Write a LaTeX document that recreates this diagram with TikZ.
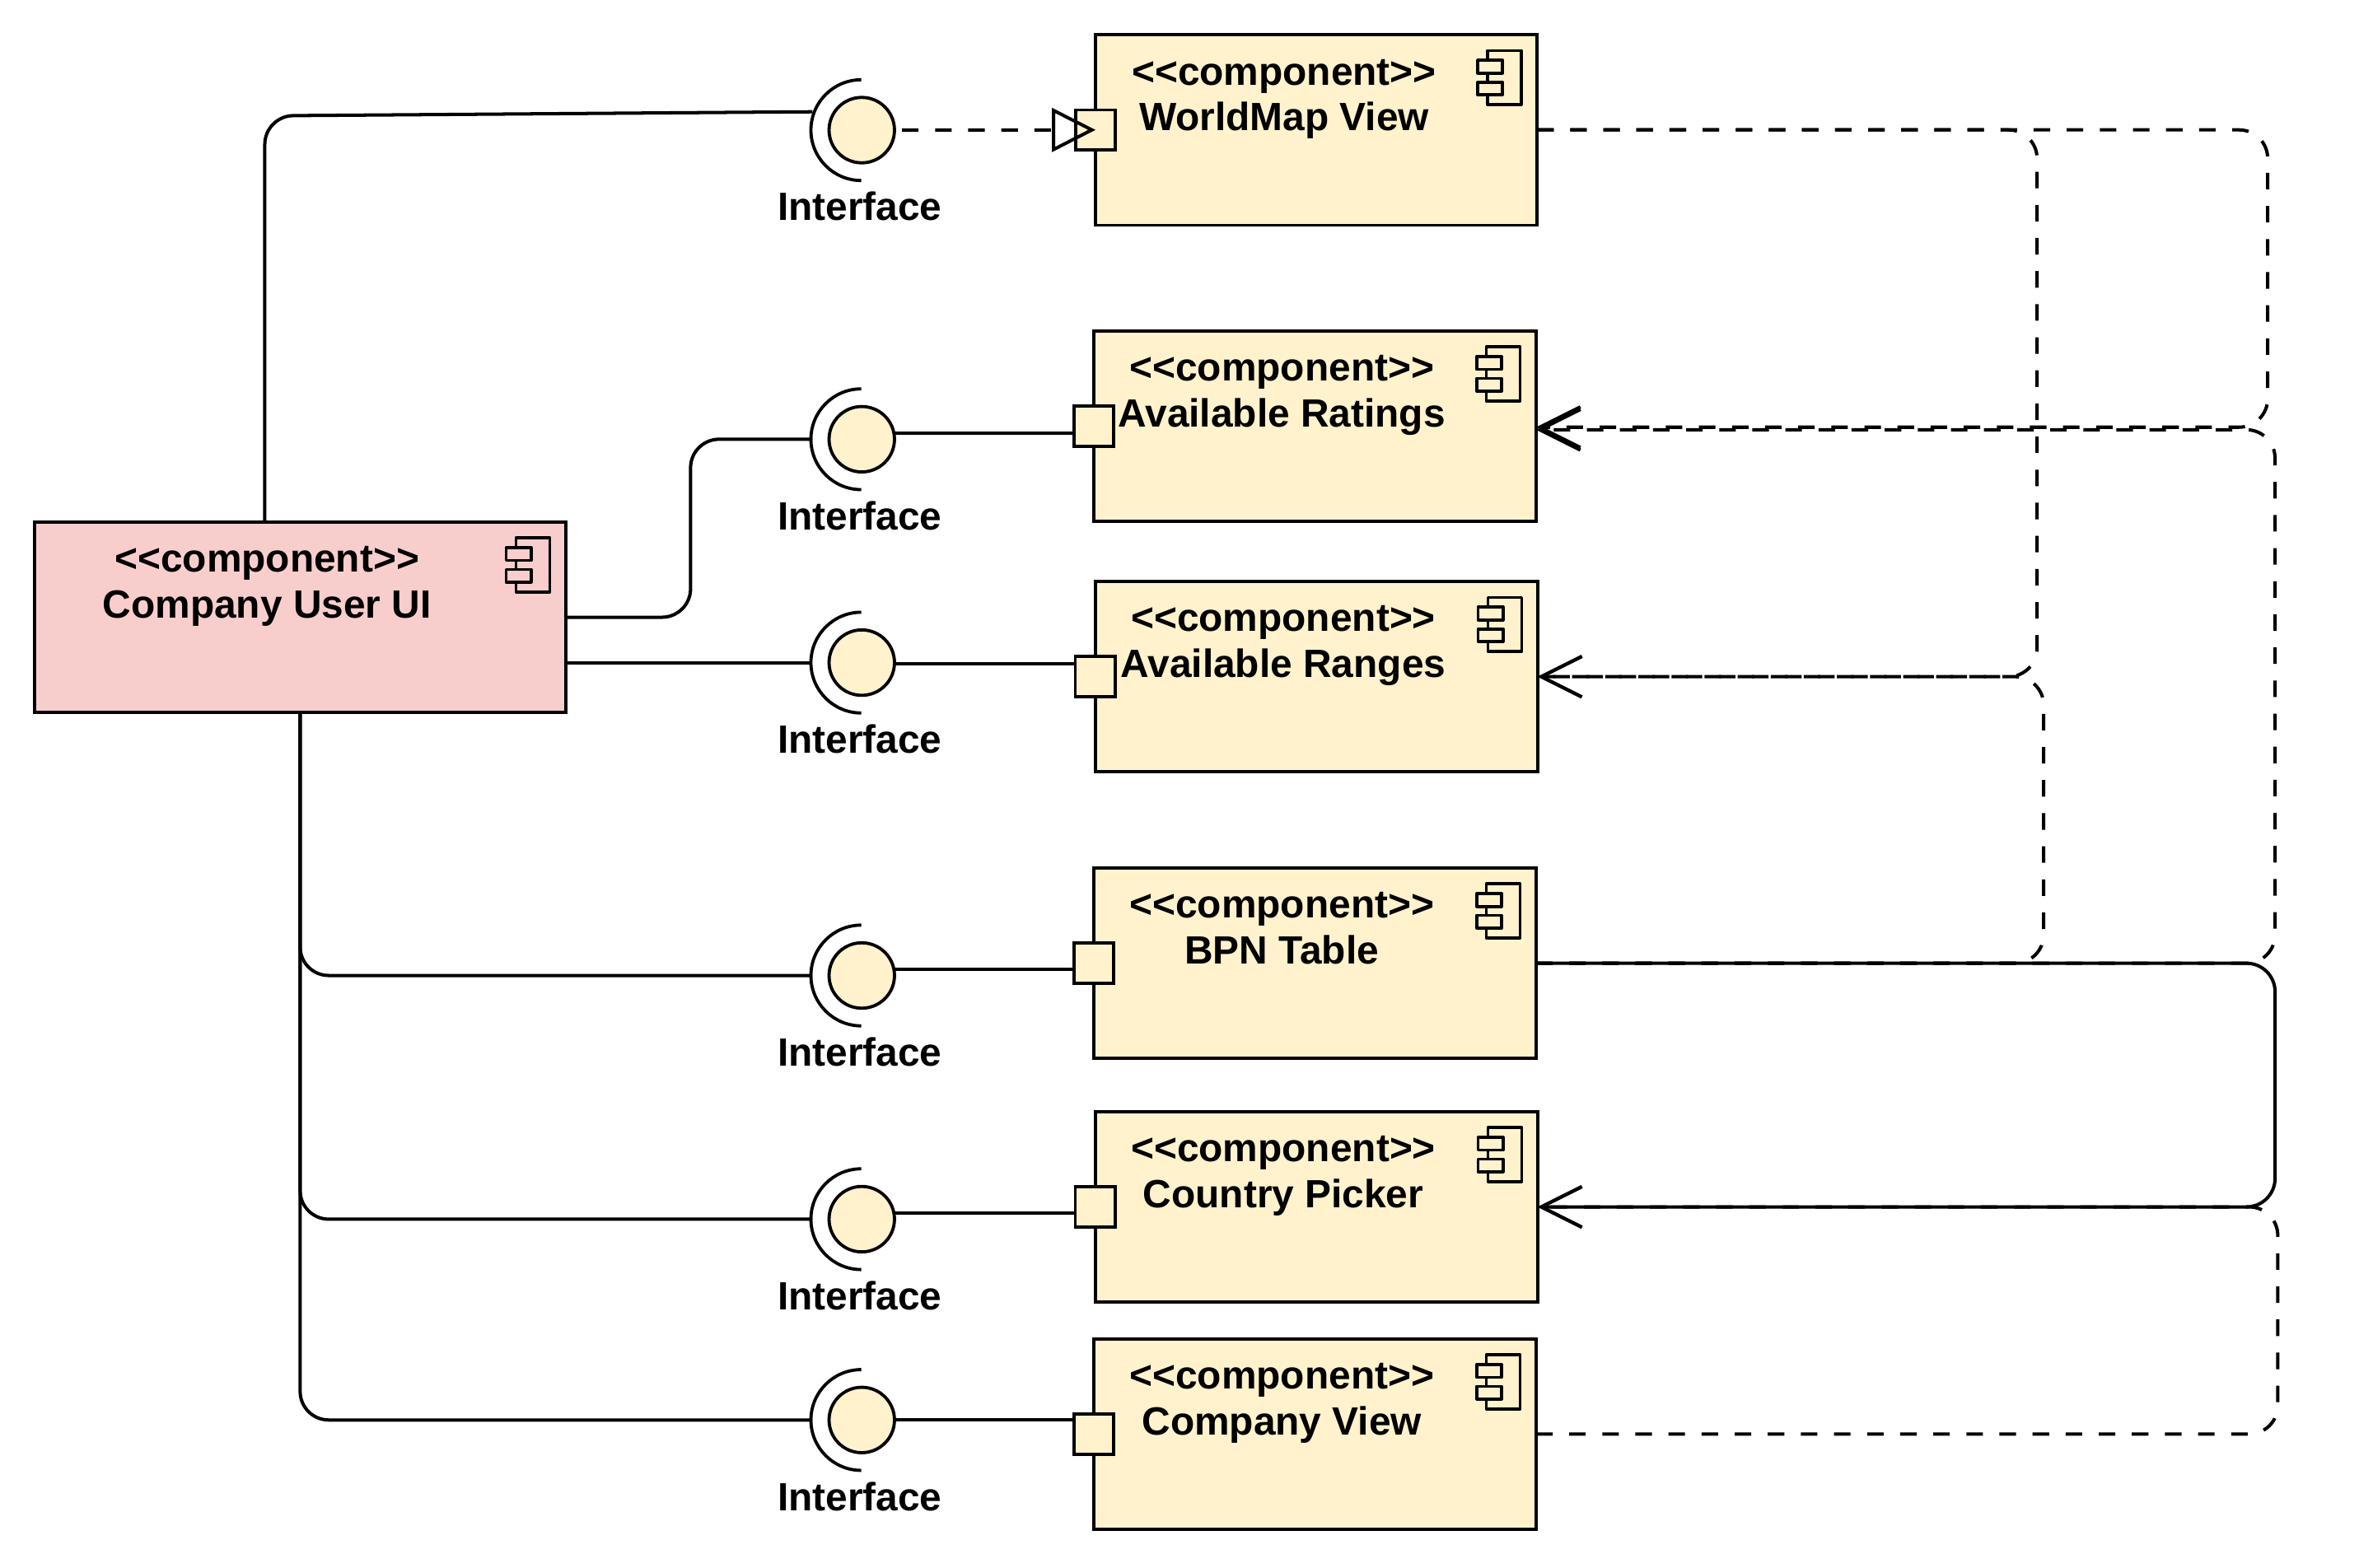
\documentclass[tikz,border=0pt]{standalone}
\usepackage{fontspec}
\newfontfamily\lblfont{Liberation Sans}
\usetikzlibrary{arrows.meta}
\definecolor{cream}{HTML}{FFF2CC}
\definecolor{pinkfill}{HTML}{F8CECC}
\tikzset{
  lbl/.style={font=\lblfont\bfseries\fontsize{26.2}{30}\selectfont,anchor=base,inner sep=0pt,text=black},
  compbox/.style={draw=black,line width=2.1pt,fill=#1,minimum height=126.7pt,inner sep=0pt,outer sep=0pt,rectangle},
  portbox/.style={draw=black,line width=2.1pt,fill=cream,minimum size=26.6pt,inner sep=0pt,outer sep=0pt,rectangle},
  ifacec/.style={draw=black,line width=2.1pt,fill=cream,circle,minimum size=43.5pt,inner sep=0pt,outer sep=0pt},
  iconln/.style={draw=black,line width=2pt,line join=round},
  wire/.style={draw=black,line width=2.2pt,rounded corners=19pt},
  dep/.style={wire,dash pattern=on 11pt off 11pt},
  openv/.style={-{Straight Barb[length=27pt,width=27pt,line width=2.2pt]}},
  realize/.style={-{Triangle[open,length=29pt,width=29pt,line width=2.2pt]}}
}
% name, left, top, width, fill, title, text centre
\newcommand{\umlcomp}[7]{%
  \node[compbox=#5,minimum width=#4pt,anchor=north west] (#1) at (#2,#3) {};
  \begin{scope}[shift={(#1.north east)}]
    \filldraw[iconln,fill=#5] (-33,10.6) rectangle (-10.6,46.6);
    \filldraw[iconln,fill=#5] (-39.5,17) rectangle (-23,25.6);
    \filldraw[iconln,fill=#5] (-39.5,31.6) rectangle (-23,40);
  \end{scope}
  \node[lbl] (#1s) at (#7,#3+33.4) {<{}<component>{}>};
  \node[lbl] (#1t) at (#7,#3+64) {#6};
}
% index, y
\newcommand{\umliface}[2]{%
  \coordinate (a#1) at (540,#2);
  \node[lbl] (l#1) at (571.5,#2+60.1) {Interface};
}
\newcommand{\umlifacedraw}[2]{%
  \draw[black,line width=2.1pt] (572.5,#2-33.5) arc[start angle=90,end angle=270,radius=33.5pt];
  \node[ifacec] (c#1) at (572.8,#2) {};
}
\begin{document}
\begin{tikzpicture}[x=1pt,y=-1pt]
\useasboundingbox (0,0) rectangle (1568,1042.4);
% boxes
\umlcomp{ui}{23}{347}{353}{pinkfill}{Company User UI}{177.5}
\umlcomp{world}{728.2}{23}{293.5}{cream}{WorldMap View}{853.5}
\umlcomp{ratings}{727}{220}{294}{cream}{Available Ratings}{852}
\umlcomp{ranges}{728}{386.5}{294}{cream}{Available Ranges}{853}
\umlcomp{bpn}{727}{577}{294}{cream}{BPN Table}{852}
\umlcomp{country}{728}{739}{294}{cream}{Country Picker}{853}
\umlcomp{cview}{727}{890}{294}{cream}{Company View}{852}
% ports
\node[portbox] (p1) at (world.west) {};
\node[portbox] (p2) at (ratings.west) {};
\node[portbox] (p3) at (ranges.west) {};
\node[portbox] (p4) at (bpn.west) {};
\node[portbox] (p5) at (country.west) {};
\node[portbox] (p6) at (cview.west) {};
% interfaces
\umliface{1}{86.5}
\umliface{2}{292}
\umliface{3}{440.5}
\umliface{4}{648.5}
\umliface{5}{810.5}
\umliface{6}{944}
\coordinate (a1top) at (540,74.3);
\coordinate (topc) at (176,77);
\coordinate (midc) at (459,292);
% left wires
\draw[wire] ([xshift=-23.5pt]ui.north) -- (topc) -- (a1top);
\draw[wire] (ui.east) -- (midc |- ui.east) -- (midc) -- (a2);
\draw[wire] (ui.east |- a3) -- (a3);
\draw[wire] (ui.south) |- (a4);
\draw[wire] (ui.south) |- (a5);
\draw[wire] (ui.south) |- (a6);
% interface symbols
\umlifacedraw{1}{86.5}
\umlifacedraw{2}{292}
\umlifacedraw{3}{440.5}
\umlifacedraw{4}{648.5}
\umlifacedraw{5}{810.5}
\umlifacedraw{6}{944}
% interface to port
\coordinate (h2) at (0,288);
\coordinate (h3) at (0,441);
\coordinate (h4) at (0,644.5);
\coordinate (h5) at (0,806.5);
\coordinate (h6) at (0,944);
\draw[wire] (c2.east |- h2) -- (p2.west |- h2);
\draw[wire] (c3.east |- h3) -- (p3.west |- h3);
\draw[wire] (c4.east |- h4) -- (p4.west |- h4);
\draw[wire] (c5.east |- h5) -- (p5.west |- h5);
\draw[wire] (c6.east |- h6) -- (p6.west |- h6);
\draw[dep,realize] ([xshift=5pt]c1.east) -- (p1.center);
% right dependencies
\coordinate (xa) at (1354,0);
\coordinate (xb) at (1507.3,0);
\coordinate (xc) at (1358.4,0);
\coordinate (xd) at (1512.2,0);
\coordinate (xe) at (1514,0);
\coordinate (y1) at (0,284);
\coordinate (y2) at (0,285.7);
\draw[dep,openv] (world.east) -- (xb |- world.east) -- (xb |- y1) -- (ratings.east |- y1);
\draw[dep,openv] (world.east) -- (xa |- world.east) -- (xa |- ranges.east) -- (ranges.east);
\draw[dep,openv] (bpn.east) -- (xc |- bpn.east) -- (xc |- ranges.east) -- (ranges.east);
\draw[dep,openv] (bpn.east) -- (xd |- bpn.east) -- (xd |- y2) -- (ratings.east |- y2);
\draw[wire,openv] (bpn.east) -- (xd |- bpn.east) -- (xd |- country.east) -- (country.east);
\draw[dep,openv] (cview.east) -- (xe |- cview.east) -- (xe |- country.east) -- (country.east);
\end{tikzpicture}
\end{document}
